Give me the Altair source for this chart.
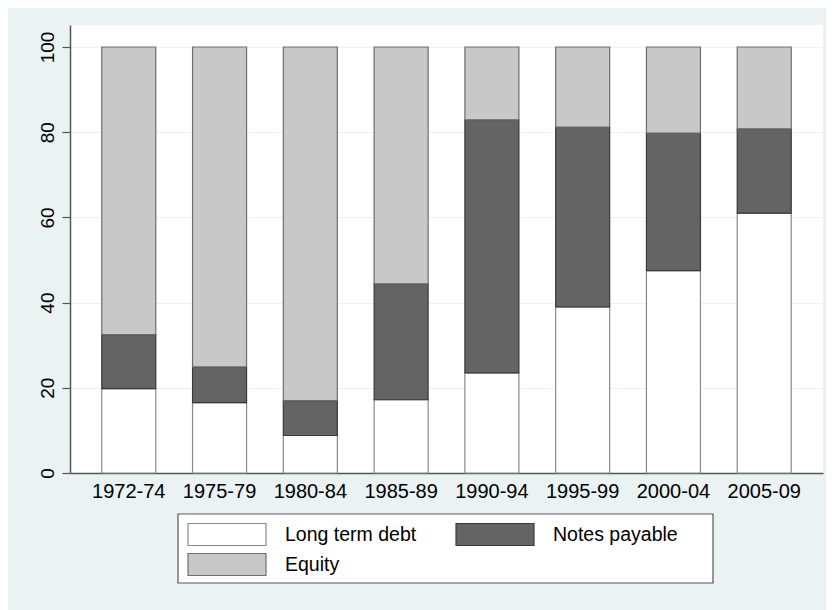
import altair as alt
import pandas as pd

periods = ["1972-74", "1975-79", "1980-84", "1985-89", "1990-94", "1995-99", "2000-04", "2005-09"]
series = ["Long term debt", "Notes payable", "Equity"]
long_term_debt = [19.8, 16.5, 8.8, 17.2, 23.5, 39.0, 47.5, 61.0]
notes_payable = [12.7, 8.4, 8.2, 27.2, 59.4, 42.2, 32.3, 19.8]
equity = [67.5, 75.1, 83.0, 55.6, 17.1, 18.8, 20.2, 19.2]

rows = []
for i, p in enumerate(periods):
    for k, (name, vals) in enumerate(zip(series, [long_term_debt, notes_payable, equity])):
        rows.append({"period": p, "series": name, "value": vals[i], "ord": k})
df = pd.DataFrame(rows)

FONT = "Liberation Sans"
BG = "#eaf2f3"

bars = alt.Chart(df).mark_bar(strokeWidth=1.2).encode(
    x=alt.X("period:N", sort=periods,
            scale=alt.Scale(paddingInner=0.405, paddingOuter=0.35),
            axis=alt.Axis(title=None, ticks=False, tickSize=0, labelAngle=0, labelPadding=8,
                          labelFont=FONT, labelFontSize=20, labelColor="black",
                          domainColor="#555555", domainWidth=1.5, grid=False)),
    y=alt.Y("value:Q", stack="zero",
            scale=alt.Scale(domain=[0, 105.16], nice=False, zero=True),
            axis=alt.Axis(title=None, values=[0, 20, 40, 60, 80, 100], labelAngle=270,
                          labelAlign="center", labelBaseline="bottom", tickSize=8,
                          labelPadding=5, labelFont=FONT, labelFontSize=19, labelColor="black",
                          grid=True, gridColor=BG, gridWidth=1,
                          domainColor="#555555", domainWidth=1.5,
                          tickColor="#555555", tickWidth=1.2)),
    fill=alt.Fill("series:N",
                  scale=alt.Scale(domain=series, range=["#ffffff", "#646464", "#c8c8c8"]),
                  legend=alt.Legend(title=None, orient="none", legendX=117, legendY=498,
                                    direction="horizontal",
                                    columns=2, padding=0, columnPadding=38, rowPadding=7,
                                    symbolType="M-1,-0.282L1,-0.282L1,0.282L-1,0.282Z",
                                    symbolSize=6084, clipHeight=23,
                                    symbolStrokeColor="#666666", symbolStrokeWidth=1.2,
                                    symbolFillColor="#ffffff",
                                    labelOffset=18, labelFont=FONT, labelFontSize=19.5,
                                    labelColor="black", labelLimit=300)),
    stroke=alt.Stroke("series:N",
                      scale=alt.Scale(domain=series, range=["#8a8a8a", "#3a3a3a", "#6e6e6e"]),
                      legend=None),
    order=alt.Order("ord:Q"),
)

frame = alt.Chart(alt.Data(values=[{}])).mark_rect(
    fill="white", stroke="#555555", strokeWidth=1.2
).encode(
    x=alt.value(108), x2=alt.value(643), y=alt.value(489), y2=alt.value(558)
)

chart = alt.layer(frame, bars).properties(
    width=753, height=448,
    padding={"left": 62, "top": 17, "right": 3, "bottom": 137},
    autosize=alt.AutoSizeParams(type="none"),
    background=BG,
).configure_view(fill="white", strokeWidth=0)

chart.save("out.html", embed_options={"renderer": "svg", "actions": False})
